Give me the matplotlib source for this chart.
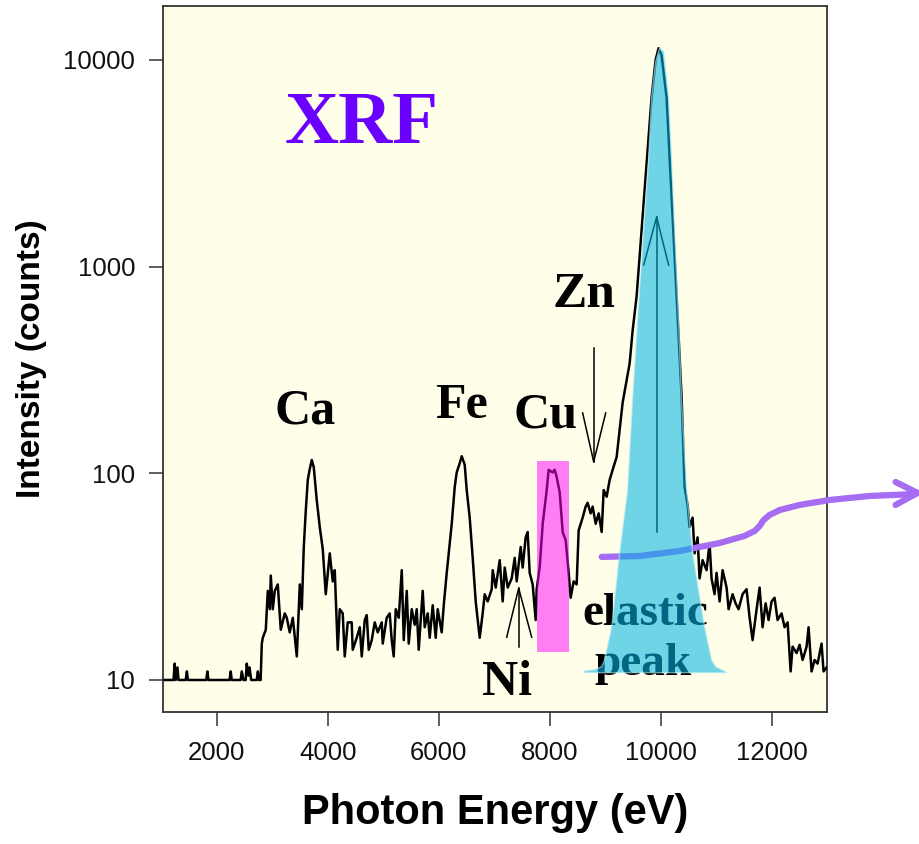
import matplotlib
matplotlib.use('Agg')
import matplotlib.pyplot as plt
from matplotlib.patches import Polygon, Rectangle
from matplotlib.ticker import NullLocator

# spectrum (eV, counts)
energy = [1060, 1220, 1240, 1260, 1290, 1310, 1440, 1460, 1480, 1810, 1830, 1850,
          2230, 2250, 2270, 2430, 2450, 2480, 2520, 2540, 2570, 2590, 2620, 2720,
          2740, 2760, 2790, 2811, 2829, 2883, 2919, 2955, 2973, 3009, 3045, 3099,
          3153, 3225, 3261, 3315, 3370, 3442, 3496, 3532, 3568, 3604, 3640, 3676,
          3712, 3748, 3802, 3856, 3910, 3964, 4036, 4090, 4126, 4180, 4216, 4270,
          4306, 4360, 4432, 4450, 4522, 4577, 4613, 4667, 4703, 4739, 4793, 4847,
          4901, 4973, 4991, 5063, 5117, 5153, 5189, 5226, 5280, 5334, 5370, 5424,
          5460, 5514, 5568, 5604, 5640, 5712, 5748, 5802, 5838, 5892, 5946, 5982,
          6054, 6091, 6145, 6181, 6235, 6289, 6325, 6379, 6415, 6469, 6505, 6559,
          6613, 6667, 6739, 6793, 6829, 6883, 6956, 6974, 7028, 7100, 7154, 7190,
          7244, 7316, 7370, 7406, 7478, 7514, 7568, 7604, 7640, 7694, 7748, 7766,
          7820, 7875, 7947, 7983, 8055, 8091, 8127, 8181, 8235, 8289, 8343, 8379,
          8433, 8487, 8523, 8595, 8649, 8685, 8739, 8775, 8830, 8884, 8938, 8974,
          9028, 9082, 9136, 9208, 9316, 9442, 9496, 9568, 9658, 9748, 9838, 9910,
          9964, 10018, 10108, 10199, 10289, 10379, 10433, 10487, 10523, 10577, 10613, 10667,
          10703, 10757, 10829, 10883, 10919, 10973, 11009, 11064, 11118, 11190, 11226, 11298,
          11352, 11406, 11478, 11550, 11605, 11659, 11731, 11785, 11839, 11893, 11947, 12001,
          12055, 12109, 12181, 12235, 12290, 12344, 12380, 12452, 12506, 12560, 12632, 12668,
          12722, 12776, 12830, 12902, 12938, 12992]
counts = [10, 10, 12, 10, 11.5, 10, 10, 11, 10, 10, 11, 10,
          10, 11, 10, 10, 11, 10, 10, 12, 10.5, 11.5, 10, 10,
          11, 10, 10, 15, 16, 17.5, 27, 22, 32, 22, 27, 29,
          17.5, 21, 20, 17, 20, 13, 29, 22, 44, 66, 93, 105,
          116, 107, 74, 55, 43, 26, 41, 30, 34, 14, 22, 21,
          13, 19, 19, 14, 16, 18, 13, 19.5, 20.6, 14, 15.6, 19,
          17, 19, 15, 20, 21, 15.6, 13, 22, 20, 34, 15.6, 27,
          15, 22, 18.5, 22, 14, 27, 18, 21, 16, 23, 16, 22,
          17, 23, 33, 41, 57, 86, 101, 112, 121, 110, 83, 61,
          39, 24, 16, 21, 26, 24, 27.5, 34, 28, 38, 24, 35,
          28, 31, 39, 30, 44, 35, 49, 52, 33, 29, 19.5, 27.5,
          35, 57, 83, 104, 101, 104, 96, 81, 52, 47.5, 33, 25,
          30, 29, 53, 61, 69, 72, 64, 69, 57, 64, 52, 83,
          77, 93, 104, 120, 220, 340, 490, 720, 1500, 3150, 6600, 10000,
          11400, 10500, 6600, 2170, 720, 234, 86, 70, 55, 61, 41, 49,
          31, 38, 34, 46, 31, 26, 33, 24, 34, 28, 22, 26,
          23.5, 22, 26, 27.5, 20, 15.6, 22, 28, 18, 23.5, 19.5, 24,
          25, 19.5, 21, 18, 19, 11, 14.5, 13.5, 14.8, 12.5, 14.5, 18,
          11, 12.5, 12, 15, 11, 11.5]

# outline of the highlighted elastic peak
elastic_e = [8631, 8811, 8938, 8992, 9118, 9262, 9406, 9496, 9586, 9694, 9784, 9838,
             9910, 9982, 10055, 10145, 10199, 10253, 10325, 10379, 10469, 10577, 10793,
             10919, 10991, 11100, 11190, 11190, 8631]
elastic_c = [11.05, 11.2, 11.6, 12.5, 18, 41, 83, 226, 550, 1500, 3300, 6600,
             9800, 11400, 11000, 6600, 3300, 1500, 550, 226, 83, 41, 18,
             12.5, 11.6, 11.2, 10.9, 10.85, 10.85]

# Cu highlight box
cu_box_e = [7766, 8343]
cu_box_c = [13.66, 115]

# label text and anchor (left, baseline)
labels = ['Ca', 'Fe', 'Cu', 'Zn', 'Ni', 'elastic', 'peak']
label_e = [3045, 5928, 7352, 8055, 6775, 8595, 8812]
label_c = [175, 185, 166, 638, 8.46, 18.5, 10.6]
label_size = [36, 36, 36, 37, 36, 34, 34]

# thin arrows: (energy list, counts list)
zn_arrow = ([8794, 8794], [404, 113.6])
zn_head = ([8595, 8794, 9010], [196, 113.6, 196])
ni_arrow = ([7442, 7442], [14.4, 27.8])
ni_head = ([7226, 7442, 7676], [16.1, 27.8, 16.1])
el_arrow = ([9929, 9929], [52, 1738])
el_head = ([9695, 9929, 10145], [1018, 1738, 1018])

# purple curved arrow
curve_e = [8938, 9622, 10343, 11064, 11515, 11695, 11785, 11857, 11965, 12145,
           12506, 13046, 13767, 14596]
curve_c = [39.4, 39.8, 42.1, 46.0, 49.8, 52.6, 55.6, 59.4, 62.9, 66.4,
           70.3, 74.3, 77.7, 79.4]
curve_head_e = [14236, 14632, 14236]
curve_head_c = [90.8, 80.4, 70.3]

xticks = [2000, 4000, 6000, 8000, 10000, 12000]
yticks = [10, 100, 1000, 10000]

sans = 'Liberation Sans'
serif = 'Liberation Serif'

fig = plt.figure(figsize=(9.2, 8.44), dpi=100)
ax = fig.add_axes([163 / 920, 132 / 844, 664 / 920, 706 / 844])
ax.set_facecolor('#FFFEE8')

ax.plot(energy, counts, color='black', lw=1.8, zorder=3)

for t, e, c, s in zip(labels, label_e, label_c, label_size):
    ax.text(e, c, t, fontsize=s, family=serif, fontweight='bold', color='black',
            ha='left', va='baseline', zorder=4)
ax.text(3225, 3963, 'XRF', fontsize=54, family=serif, fontweight='bold',
        color='#6A00FF', ha='left', va='baseline', zorder=4)

for xs, ys in [zn_arrow, zn_head, ni_arrow, ni_head, el_arrow, el_head]:
    ax.plot(xs, ys, color='black', lw=1.1, zorder=4)

ax.plot(curve_e, curve_c, color='#A66CF2', lw=4.5, solid_capstyle='round',
        solid_joinstyle='round', zorder=5, clip_on=False)
ax.plot(curve_head_e, curve_head_c, color='#A66CF2', lw=4.5, solid_capstyle='round',
        solid_joinstyle='round', zorder=5, clip_on=False)

ax.add_patch(Rectangle((cu_box_e[0], cu_box_c[0]), cu_box_e[1] - cu_box_e[0],
                       cu_box_c[1] - cu_box_c[0], facecolor='#FF00FF', alpha=0.5,
                       edgecolor='none', zorder=6))
ax.add_patch(Polygon(list(zip(elastic_e, elastic_c)), closed=True, facecolor='#00B4E6',
                     alpha=0.57, edgecolor='#BFEAF4', lw=1.0, zorder=6))

ax.set_yscale('log')
ax.set_xlim(1030, 13000)
ax.set_ylim(7.0, 18250)
ax.set_xticks(xticks)
ax.set_xticklabels([str(v) for v in xticks])
ax.set_yticks(yticks)
ax.set_yticklabels([str(v) for v in yticks])
ax.yaxis.set_minor_locator(NullLocator())
ax.tick_params(axis='both', direction='out', length=10, width=1.1, color='#333333',
               labelsize=18.5, labelcolor='#111111')
ax.tick_params(axis='x', pad=11)
ax.tick_params(axis='y', pad=10)
for lab in ax.get_xticklabels() + ax.get_yticklabels():
    lab.set_family(sans)
for sp in ax.spines.values():
    sp.set_color('#333333')
    sp.set_linewidth(1.3)

ax.set_xlabel('Photon Energy (eV)', fontsize=30, family=sans, fontweight='bold', labelpad=20)
ax.set_ylabel('Intensity (counts)', fontsize=24, family=sans, fontweight='bold', labelpad=12)

fig.savefig('out.png', dpi=100)
